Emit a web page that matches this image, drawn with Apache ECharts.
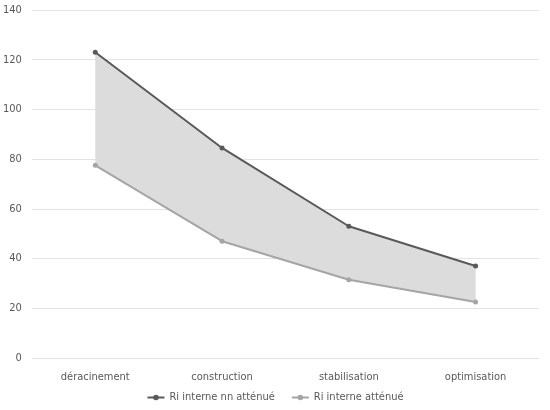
<!DOCTYPE html>
<html>
<head>
<meta charset="utf-8">
<script src="https://cdn.jsdelivr.net/npm/echarts@6/dist/echarts.min.js"></script>
<style>
    html, body { margin: 0; padding: 0; background: #fff; }
    #chart { width: 550px; height: 410px; }
</style>
</head>
<body>
<div id="chart"></div>
<script>
// catégories et valeurs
var categories = ['déracinement', 'construction', 'stabilisation', 'optimisation'];
var nonAttenue = [123, 84.5, 53, 37];
var attenue = [77.5, 47, 31.5, 22.5];
var yTicks = [0, 20, 40, 60, 80, 100, 120, 140];

// écart entre les deux courbes, pour remplir la bande
var ecart = nonAttenue.map(function (v, i) { return v - attenue[i]; });

var police = "'Liberation Sans Narrow', 'DejaVu Sans Condensed', sans-serif";

var myChart = echarts.init(document.getElementById('chart'), null, {renderer: 'canvas'});

var option = {
    animation: false,
    textStyle: {fontFamily: police},
    grid: {left: 30, right: 11, top: 10, bottom: 52},
    legend: {
        bottom: 2,
        left: 'center',
        itemWidth: 17,
        itemHeight: 7,
        itemGap: 16,
        textStyle: {color: '#595959', fontSize: 11, fontFamily: police},
        data: ['Ri interne nn atténué', 'Ri interne atténué']
    },
    xAxis: {
        type: 'category',
        data: categories,
        boundaryGap: true,
        axisLine: {show: false},
        axisTick: {show: false},
        axisLabel: {color: '#595959', fontSize: 11, margin: 14, fontFamily: police}
    },
    yAxis: {
        type: 'value',
        min: yTicks[0],
        max: yTicks[yTicks.length - 1],
        interval: 20,
        axisLine: {show: false},
        axisTick: {show: false},
        axisLabel: {color: '#595959', fontSize: 11, margin: 10, fontFamily: police},
        splitLine: {lineStyle: {color: '#e3e3e3', width: 1}}
    },
    series: [
        {
            name: 'base',
            type: 'line',
            stack: 'bande',
            data: attenue,
            symbol: 'none',
            lineStyle: {opacity: 0},
            silent: true,
            z: 1
        },
        {
            name: 'bande',
            type: 'line',
            stack: 'bande',
            data: ecart,
            symbol: 'none',
            lineStyle: {opacity: 0},
            areaStyle: {
                color: '#dcdcdc',
                opacity: 1,
                decal: {
                    symbol: 'rect',
                    dashArrayX: [[1, 0]],
                    dashArrayY: [2, 3],
                    rotation: 0,
                    color: 'rgba(255,255,255,0.35)'
                }
            },
            silent: true,
            z: 1
        },
        {
            name: 'Ri interne nn atténué',
            type: 'line',
            data: nonAttenue,
            symbol: 'circle',
            symbolSize: 5,
            color: '#595959',
            lineStyle: {color: '#595959', width: 2},
            itemStyle: {color: '#595959'},
            z: 3
        },
        {
            name: 'Ri interne atténué',
            type: 'line',
            data: attenue,
            symbol: 'circle',
            symbolSize: 5,
            color: '#a5a5a5',
            lineStyle: {color: '#a5a5a5', width: 2},
            itemStyle: {color: '#a5a5a5'},
            z: 3
        }
    ]
};

myChart.setOption(option);
</script>
</body>
</html>
